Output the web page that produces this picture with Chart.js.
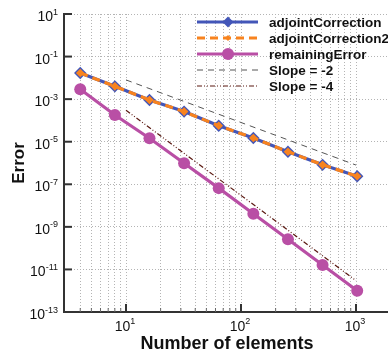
<!DOCTYPE html>
<html>
<head>
<meta charset="utf-8">
<script src="https://cdn.jsdelivr.net/npm/chart.js@4.4.0/dist/chart.umd.min.js"></script>
<style>
  body { margin: 0; background: #fff; }
  canvas { display: block; }
</style>
</head>
<body>
<canvas id="errorChart" width="388" height="354"></canvas>
<script>
// values
const elements = [4, 8, 16, 32, 64, 128, 256, 512, 1024];
const adjointCorrection = [1.7e-2, 4.0e-3, 9.1e-4, 2.6e-4, 5.6e-5, 1.5e-5, 3.4e-6, 8.2e-7, 2.4e-7];
const adjointCorrection2 = [1.7e-2, 4.0e-3, 9.1e-4, 2.6e-4, 5.6e-5, 1.5e-5, 3.4e-6, 8.2e-7, 2.4e-7];
const remainingError = [2.9e-3, 1.8e-4, 1.45e-5, 9.8e-7, 6.6e-8, 4.1e-9, 2.6e-10, 1.6e-11, 1.0e-12];
const slopeX = [10, 1000];
const slope2 = [8e-3, 8e-7];
const slope4 = [3e-4, 3e-12];

const seriesNames = ['adjointCorrection', 'adjointCorrection2', 'remainingError', 'Slope = -2', 'Slope = -4'];
const yTicks = [1e1, 1e-1, 1e-3, 1e-5, 1e-7, 1e-9, 1e-11, 1e-13];
const xMajor = [10, 100, 1000];
const xGrid = [4, 5, 6, 7, 8, 9, 10, 20, 30, 40, 50, 60, 70, 80, 90,
  100, 200, 300, 400, 500, 600, 700, 800, 900, 1000];

const FONT = '"Liberation Sans", Arial, Helvetica, sans-serif';
const BLUE = '#4356b8';
const ORANGE = '#f8831f';
const MAGENTA = '#b94fa5';

const toPoints = (xs, ys) => xs.map((x, i) => ({ x: x, y: ys[i] }));

const legendStyles = [
  { color: BLUE, dash: [], width: 3, marker: 'diamond', r: 5.5 },
  { color: ORANGE, dash: [8, 5], width: 3, marker: 'diamond', r: 3 },
  { color: MAGENTA, dash: [], width: 3, marker: 'circle', r: 6 },
  { color: '#555', dash: [6, 5], width: 1, marker: null },
  { color: '#5a1810', dash: [5, 2, 1, 2, 1, 2], width: 1.2, marker: null }
];

function marker(ctx, type, x, y, r, color) {
  ctx.fillStyle = color;
  ctx.beginPath();
  if (type === 'circle') {
    ctx.arc(x, y, r, 0, Math.PI * 2);
  } else {
    ctx.moveTo(x, y - r);
    ctx.lineTo(x + r, y);
    ctx.lineTo(x, y + r);
    ctx.lineTo(x - r, y);
    ctx.closePath();
  }
  ctx.fill();
}

const extras = {
  id: 'extras',
  afterDraw(chart) {
    const ctx = chart.ctx;
    const xs = chart.scales.x;
    const ys = chart.scales.y;
    const area = chart.chartArea;
    ctx.save();

    // tick marks pointing inwards
    ctx.strokeStyle = '#333';
    ctx.lineWidth = 2;
    yTicks.forEach(v => {
      const py = ys.getPixelForValue(v);
      ctx.beginPath();
      ctx.moveTo(area.left, py);
      ctx.lineTo(area.left + 8, py);
      ctx.stroke();
    });
    xGrid.forEach(v => {
      const px = xs.getPixelForValue(v);
      const major = xMajor.includes(v);
      ctx.lineWidth = major ? 2 : 1;
      ctx.strokeStyle = major ? '#333' : '#666';
      ctx.beginPath();
      ctx.moveTo(px, area.bottom);
      ctx.lineTo(px, area.bottom - (major ? 8 : 4));
      ctx.stroke();
    });

    // tick labels: 10 with a raised exponent
    ctx.fillStyle = '#111';
    ctx.textBaseline = 'alphabetic';
    ctx.textAlign = 'left';
    yTicks.forEach(v => {
      const py = ys.getPixelForValue(v);
      const exp = String(Math.round(Math.log10(v)));
      ctx.font = '9px ' + FONT;
      const w2 = ctx.measureText(exp).width;
      ctx.font = '14px ' + FONT;
      const w1 = ctx.measureText('10').width;
      ctx.fillText('10', 58 - w2 - w1, py + 7);
      ctx.font = '9px ' + FONT;
      ctx.fillText(exp, 58 - w2, py + 0.5);
    });
    xMajor.forEach(v => {
      const px = xs.getPixelForValue(v);
      const exp = String(Math.round(Math.log10(v)));
      ctx.font = '9px ' + FONT;
      const w2 = ctx.measureText(exp).width;
      ctx.font = '14px ' + FONT;
      const w1 = ctx.measureText('10').width;
      const start = px - 1 - (w1 + w2) / 2;
      ctx.fillText('10', start, 331);
      ctx.font = '9px ' + FONT;
      ctx.fillText(exp, start + w1, 324);
    });

    // axis titles
    ctx.font = 'bold 18px ' + FONT;
    ctx.textAlign = 'center';
    ctx.fillText('Number of elements', 227, 349);
    ctx.save();
    ctx.translate(19, (area.top + area.bottom) / 2);
    ctx.rotate(-Math.PI / 2);
    ctx.font = 'bold 17px ' + FONT;
    ctx.textBaseline = 'middle';
    ctx.fillText('Error', 0, 0);
    ctx.restore();

    // legend inside the plot, top right
    seriesNames.forEach((name, i) => {
      const st = legendStyles[i];
      const ly = 22 + i * 16;
      ctx.strokeStyle = st.color;
      ctx.lineWidth = st.width;
      ctx.setLineDash(st.dash);
      ctx.beginPath();
      ctx.moveTo(197, ly);
      ctx.lineTo(258, ly);
      ctx.stroke();
      ctx.setLineDash([]);
      if (st.marker) marker(ctx, st.marker, 228, ly, st.r, st.color);
      ctx.fillStyle = '#111';
      ctx.font = 'bold 13.5px ' + FONT;
      ctx.textAlign = 'left';
      ctx.textBaseline = 'middle';
      ctx.fillText(name, 269, ly + 1);
    });

    ctx.restore();
  }
};

const ctx = document.getElementById('errorChart').getContext('2d');
new Chart(ctx, {
  type: 'line',
  data: {
    datasets: [
      {
        label: seriesNames[0],
        data: toPoints(elements, adjointCorrection),
        borderColor: BLUE, backgroundColor: BLUE,
        borderWidth: 3.2, pointStyle: 'rectRot', pointRadius: 6.2,
        pointBorderWidth: 0, order: 1
      },
      {
        label: seriesNames[1],
        data: toPoints(elements, adjointCorrection2),
        borderColor: ORANGE, backgroundColor: ORANGE,
        borderWidth: 3.2, borderDash: [8, 5], pointStyle: 'rectRot', pointRadius: 4.3,
        pointBorderWidth: 0, order: 0
      },
      {
        label: seriesNames[2],
        data: toPoints(elements, remainingError),
        borderColor: MAGENTA, backgroundColor: MAGENTA,
        borderWidth: 3.2, pointStyle: 'circle', pointRadius: 6,
        pointBorderWidth: 0, order: 2
      },
      {
        label: seriesNames[3],
        data: toPoints(slopeX, slope2),
        borderColor: '#555', borderWidth: 1, borderDash: [6, 5],
        pointRadius: 0, order: 3
      },
      {
        label: seriesNames[4],
        data: toPoints(slopeX, slope4),
        borderColor: '#5a1810', borderWidth: 1.2, borderDash: [5, 2, 1, 2, 1, 2],
        pointRadius: 0, order: 4
      }
    ]
  },
  options: {
    responsive: false,
    animation: false,
    layout: { autoPadding: false, padding: { left: 64, top: 14, right: 0, bottom: 42 } },
    plugins: {
      legend: { display: false },
      tooltip: { enabled: false }
    },
    scales: {
      x: {
        type: 'logarithmic',
        min: 2.89,
        max: 1897,
        bounds: 'data',
        afterBuildTicks: s => { s.ticks = xGrid.map(v => ({ value: v })); },
        ticks: { display: false },
        grid: { color: '#b4b4b4', lineWidth: 1, drawTicks: false },
        border: { color: '#333', width: 2, dash: [1, 2] }
      },
      y: {
        type: 'logarithmic',
        min: 1e-13,
        max: 1e1,
        bounds: 'data',
        afterBuildTicks: s => { s.ticks = yTicks.map(v => ({ value: v })); },
        ticks: { display: false },
        grid: { color: '#b4b4b4', lineWidth: 1, drawTicks: false },
        border: { color: '#333', width: 2, dash: [1, 2] }
      }
    }
  },
  plugins: [extras]
});
</script>
</body>
</html>
